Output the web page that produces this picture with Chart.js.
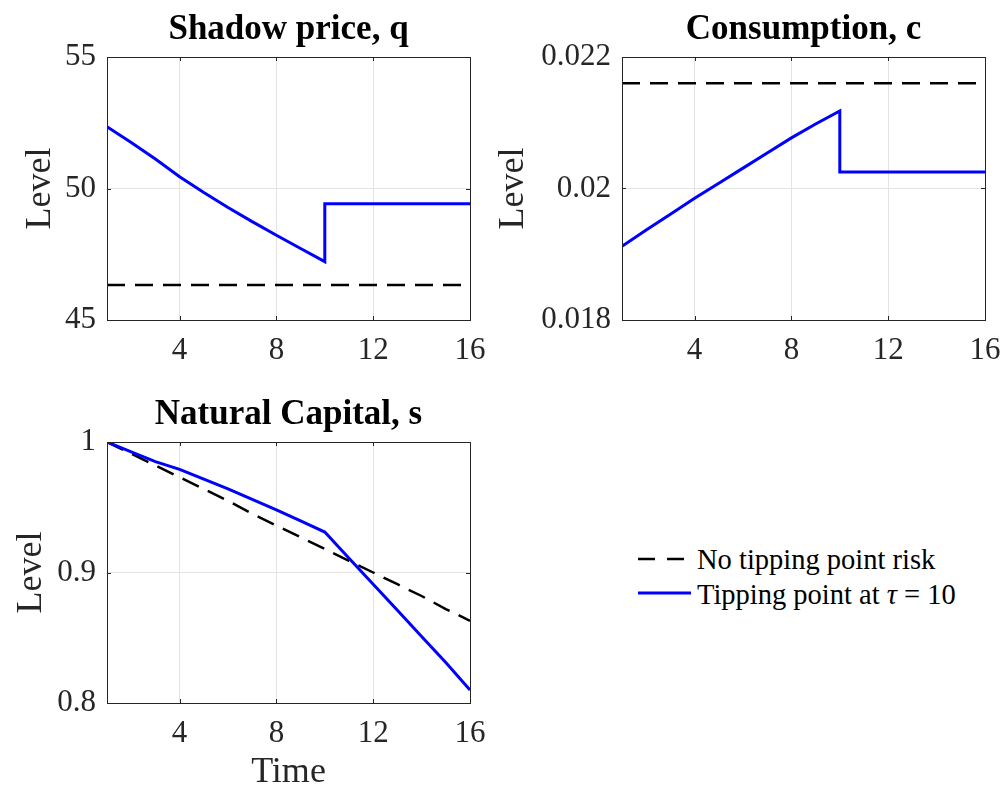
<!DOCTYPE html>
<html>
<head>
<meta charset="utf-8">
<script src="https://cdn.jsdelivr.net/npm/chart.js@4.4.1/dist/chart.umd.min.js"></script>
<style>
  html, body { margin: 0; padding: 0; background: #fff; }
  body { width: 1003px; height: 786px; position: relative; overflow: hidden; font-family: "Liberation Serif", "Times New Roman", serif; }
  canvas { position: absolute; }
  .legend-row { position: absolute; left: 638px; height: 32px; white-space: nowrap; font-size: 28.5px; line-height: 32px; color: #000; }
  .legend-row svg { position: absolute; left: 0; top: 0; }
  .legend-row span { position: absolute; left: 59px; top: 0; }
</style>
</head>
<body>
<canvas id="qChart" width="490" height="375" style="left:0;top:0"></canvas>
<canvas id="cChart" width="513" height="375" style="left:490px;top:0"></canvas>
<canvas id="sChart" width="490" height="410" style="left:0;top:385px"></canvas>

<div class="legend-row" style="top:544px">
  <svg width="55" height="32"><line x1="0" y1="15" x2="47" y2="15" stroke="#000" stroke-width="2.5" stroke-dasharray="17 12"></line></svg>
  <span>No tipping point risk</span>
</div>
<div class="legend-row" style="top:579px">
  <svg width="55" height="32"><line x1="0" y1="14" x2="53" y2="14" stroke="#0000ff" stroke-width="3"></line></svg>
  <span>Tipping point at <i>τ</i> = 10</span>
</div>

<script>
// ---- data ----
const time = [1, 2, 3, 4, 5, 6, 7, 8, 9, 10, 10, 11, 12, 13, 14, 15, 16];

const qTipping = [52.35, 51.75, 51.12, 50.45, 49.85, 49.28, 48.74, 48.22, 47.72, 47.22, 49.42, 49.42, 49.42, 49.42, 49.42, 49.42, 49.42];
const qNoTipping = [46.33, 46.33, 46.33, 46.33, 46.33, 46.33, 46.33, 46.33, 46.33, 46.33, 46.33, 46.33, 46.33, 46.33, 46.33, 46.33, 46.33];

const cTipping = [0.01912, 0.01937, 0.01961, 0.01985, 0.02008, 0.02031, 0.02054, 0.02077, 0.02098, 0.02118, 0.02025, 0.02025, 0.02025, 0.02025, 0.02025, 0.02025, 0.02025];
const cNoTipping = [0.0216, 0.0216, 0.0216, 0.0216, 0.0216, 0.0216, 0.0216, 0.0216, 0.0216, 0.0216, 0.0216, 0.0216, 0.0216, 0.0216, 0.0216, 0.0216, 0.0216];

const sTipping = [1, 0.9925, 0.985, 0.979, 0.9715, 0.964, 0.956, 0.948, 0.9395, 0.931, 0.931, 0.911, 0.891, 0.871, 0.851, 0.831, 0.810];
const sNoTipping = [1, 0.991, 0.982, 0.973, 0.964, 0.955, 0.945, 0.936, 0.927, 0.918, 0.918, 0.909, 0.900, 0.891, 0.882, 0.872, 0.863];

const xTicks = [4, 8, 12, 16];
const qTicks = [45, 50, 55];
const cTicks = [0.018, 0.02, 0.022];
const sTicks = [0.8, 0.9, 1];

const FONT = "'Liberation Serif', 'Times New Roman', serif";
const AXIS_COLOR = "#262626";

// box around the plot area + inward tick marks, like matlab axes
const boxPlugin = {
  id: "matlabBox",
  afterDatasetsDraw(chart) {
    const { ctx, chartArea: a, scales: { x, y } } = chart;
    ctx.save();
    ctx.strokeStyle = AXIS_COLOR;
    ctx.lineWidth = 1;
    ctx.beginPath();
    x.ticks.forEach(t => {
      const px = Math.round(x.getPixelForValue(t.value)) + 0.5;
      ctx.moveTo(px, a.bottom); ctx.lineTo(px, a.bottom - 4);
      ctx.moveTo(px, a.top); ctx.lineTo(px, a.top + 4);
    });
    y.ticks.forEach(t => {
      const py = Math.round(y.getPixelForValue(t.value)) + 0.5;
      ctx.moveTo(a.left, py); ctx.lineTo(a.left + 4, py);
      ctx.moveTo(a.right, py); ctx.lineTo(a.right - 4, py);
    });
    ctx.stroke();
    ctx.strokeRect(Math.round(a.left) + 0.5, Math.round(a.top) + 0.5, Math.round(a.right - a.left), Math.round(a.bottom - a.top));
    ctx.restore();
  }
};

function pts(vals) {
  return time.map((t, i) => ({ x: t, y: vals[i] }));
}

function makeChart(id, opts) {
  return new Chart(document.getElementById(id), {
    type: "line",
    data: {
      datasets: [
        {
          label: "Tipping point at τ = 10",
          data: pts(opts.tip),
          borderColor: "#0000ff",
          borderWidth: 3,
          pointRadius: 0,
          tension: 0
        },
        {
          label: "No tipping point risk",
          data: pts(opts.noTip),
          borderColor: "#000000",
          borderWidth: 2.5,
          borderDash: [18, 10],
          pointRadius: 0,
          tension: 0
        }
      ]
    },
    options: {
      responsive: false,
      animation: false,
      layout: { padding: { left: 0, right: opts.padRight, top: 0, bottom: 0 } },
      plugins: {
        legend: { display: false },
        tooltip: { enabled: false },
        title: {
          display: true,
          text: opts.title,
          color: "#000",
          fullSize: false,
          font: { family: FONT, size: 35, weight: "bold", lineHeight: 1.2 },
          padding: { top: 8.5, bottom: 6.5 }
        }
      },
      scales: {
        x: {
          type: "linear",
          min: 1,
          max: 16,
          afterBuildTicks: s => { s.ticks = xTicks.map(v => ({ value: v })); },
          afterFit: s => { s.height = opts.xHeight; s.paddingLeft = 0; s.paddingRight = 0; },
          grid: { color: "#e3e3e3", drawTicks: false },
          border: { display: false },
          ticks: { color: AXIS_COLOR, padding: 12, maxRotation: 0, font: { family: FONT, size: 31 } },
          title: {
            display: !!opts.xTitle,
            text: opts.xTitle || "",
            color: AXIS_COLOR,
            font: { family: FONT, size: 36, lineHeight: 1 },
            padding: { top: 0, bottom: 4 }
          }
        },
        y: {
          type: "linear",
          min: opts.yTicks[0],
          max: opts.yTicks[opts.yTicks.length - 1],
          afterBuildTicks: s => { s.ticks = opts.yTicks.map(v => ({ value: v })); },
          afterFit: s => { s.width = opts.yWidth; },
          grid: { color: "#e3e3e3", drawTicks: false },
          border: { display: false },
          ticks: { color: AXIS_COLOR, padding: 11, callback: v => String(v), font: { family: FONT, size: 31 } },
          title: {
            display: true,
            text: "Level",
            color: AXIS_COLOR,
            font: { family: FONT, size: 36, lineHeight: 1 },
            padding: { top: opts.yTitlePad, bottom: 0 }
          }
        }
      }
    },
    plugins: [boxPlugin]
  });
}

makeChart("qChart", {
  title: "Shadow price, q", tip: qTipping, noTip: qNoTipping, yTicks: qTicks,
  yWidth: 107, xHeight: 55, padRight: 20, yTitlePad: 22.5
});

makeChart("cChart", {
  title: "Consumption, c", tip: cTipping, noTip: cNoTipping, yTicks: cTicks,
  yWidth: 132, xHeight: 55, padRight: 18, yTitlePad: 6
});

makeChart("sChart", {
  title: "Natural Capital, s", tip: sTipping, noTip: sNoTipping, yTicks: sTicks,
  yWidth: 107, xHeight: 92, padRight: 20, yTitlePad: 13.5, xTitle: "Time"
});
</script>
</body>
</html>
